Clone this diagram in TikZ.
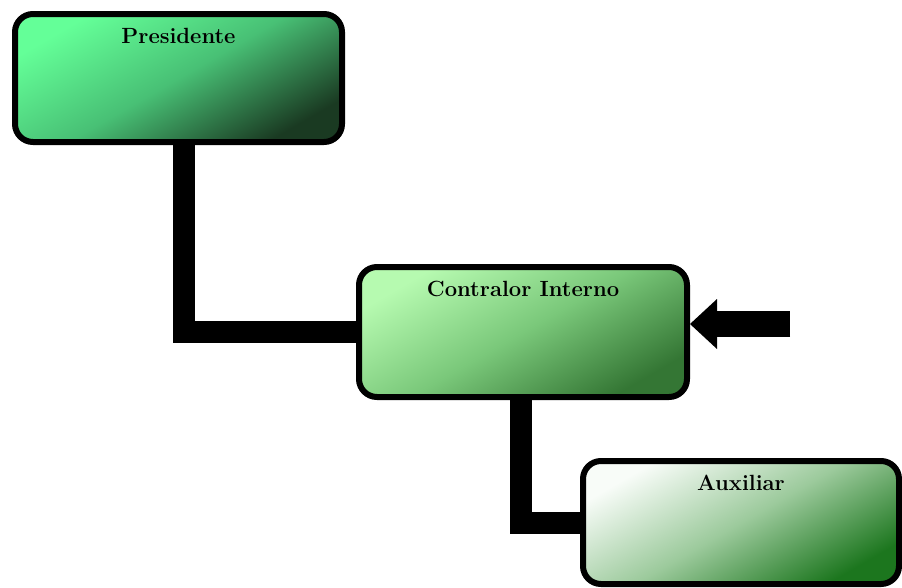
\documentclass[tikz,border=0pt]{standalone}
\usetikzlibrary{arrows.meta}

\definecolor{presA}{RGB}{100,255,152}
\definecolor{presM}{RGB}{72,192,117}
\definecolor{presB}{RGB}{26,58,34}
\definecolor{ctrlA}{RGB}{182,250,176}
\definecolor{ctrlM}{RGB}{122,200,122}
\definecolor{ctrlB}{RGB}{52,118,52}
\definecolor{auxA}{RGB}{248,252,248}
\definecolor{auxM}{RGB}{156,202,156}
\definecolor{auxB}{RGB}{28,118,30}

\tikzset{
  box/.style={draw=black, line width=6pt, rounded corners=18pt, inner sep=0pt},
  boxtext/.style={font=\fontsize{22}{26}\selectfont\bfseries, inner sep=0pt, anchor=north, yshift=-17pt},
  link/.style={line width=22pt},
  bigarrow/.style={line width=26pt, -{Triangle[width=50pt,length=27pt,line width=0pt]}}
}

\begin{document}
\begin{tikzpicture}[x=1pt, y=-1pt]

  \useasboundingbox (0,0) rectangle (902,587);

  % Define nodes
  \node[box, minimum width=327pt, minimum height=128pt,
        top color=presA, bottom color=presB, middle color=presM, shading angle=30,
        label={[boxtext]north:Presidente}]        (pres) at (178.5,78) {};
  \node[box, minimum width=328pt, minimum height=130pt,
        top color=ctrlA, bottom color=ctrlB, middle color=ctrlM, shading angle=30,
        label={[boxtext]north:Contralor Interno}] (ci) at (523,332) {};
  \node[box, minimum width=316pt, minimum height=123pt,
        top color=auxA, bottom color=auxB, middle color=auxM, shading angle=30,
        label={[boxtext]north:Auxiliar}]          (aux) at (741,522.5) {};
  \coordinate (src) at (790,324);

  % Connect the nodes
  \draw[link] ([xshift=5pt]pres.south) |- (ci.west);
  \draw[link] ([xshift=-2pt]ci.south) |- (aux.west);
  \draw[bigarrow] (src) -- (src -| ci.east);

\end{tikzpicture}
\end{document}
